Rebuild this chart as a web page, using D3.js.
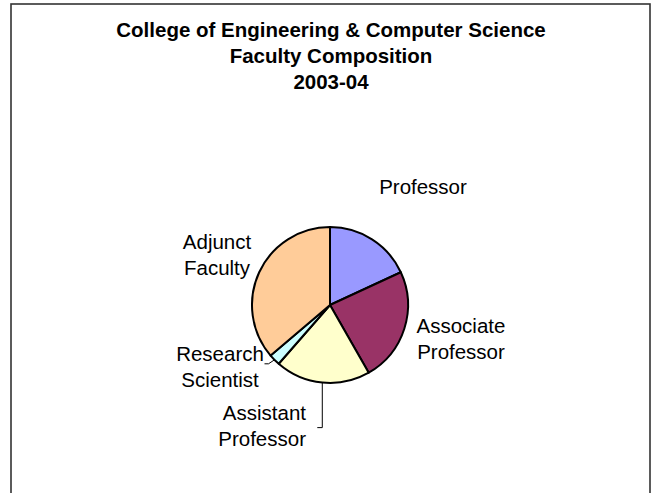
<!DOCTYPE html>
<html>
<head>
<meta charset="utf-8">
<script src="https://cdn.jsdelivr.net/npm/d3@7"></script>
<style>
  body { margin: 0; background: #fff; }
  text { font-family: "Liberation Sans", Arial, sans-serif; fill: #000; }
</style>
</head>
<body>
<div id="chart"></div>
<script>
const svgWidth = 655;
const svgHeight = 493;

// data (head counts)
const categories = ["Professor", "Associate Professor", "Assistant Professor", "Research Scientist", "Adjunct Faculty"];
const counts = [23, 30, 25, 3, 46];
const colors = ["#9999FF", "#993366", "#FFFFCC", "#CCFFFF", "#FFCC99"];
const titleLines = ["College of Engineering & Computer Science", "Faculty Composition", "2003-04"];

const svg = d3.select("#chart")
  .append("svg")
  .attr("width", svgWidth)
  .attr("height", svgHeight);

// chart frame (bottom edge runs off the page)
svg.append("rect")
  .attr("x", 11)
  .attr("y", 4)
  .attr("width", 639)
  .attr("height", 520)
  .attr("fill", "#fff")
  .attr("stroke", "#333")
  .attr("stroke-width", 1.6);

// title
svg.append("g").selectAll("text")
  .data(titleLines)
  .enter()
  .append("text")
  .attr("x", 331)
  .attr("y", (d, i) => 37 + i * 26)
  .attr("text-anchor", "middle")
  .attr("font-size", "20.5px")
  .attr("font-weight", "bold")
  .text(d => d);

const cx = 330, cy = 305, radius = 78;

const pie = d3.pie().sort(null).value(d => d.value);
const arc = d3.arc().innerRadius(0).outerRadius(radius);

const data = categories.map((c, i) => ({ name: c, value: counts[i], color: colors[i] }));
const arcs = pie(data);

const pieGroup = svg.append("g")
  .attr("transform", `translate(${cx}, ${cy})`);

pieGroup.selectAll("path")
  .data(arcs)
  .enter()
  .append("path")
  .attr("d", arc)
  .attr("fill", d => d.data.color)
  .attr("stroke", "#000")
  .attr("stroke-width", 2)
  .attr("stroke-linejoin", "round");

// label placement, relative to pie centre
const labelPos = {
  "Professor": { x: 93, y: -111, anchor: "middle" },
  "Associate Professor": { x: 131, y: 28, anchor: "middle" },
  "Assistant Professor": { x: -24, y: 115, anchor: "end" },
  "Research Scientist": { x: -110, y: 56, anchor: "middle" },
  "Adjunct Faculty": { x: -113, y: -56, anchor: "middle" }
};

const labelGroup = svg.append("g")
  .attr("transform", `translate(${cx}, ${cy})`);

arcs.forEach(a => {
  const p = labelPos[a.data.name];
  const words = a.data.name.split(" ");
  const t = labelGroup.append("text")
    .attr("x", p.x)
    .attr("y", p.y)
    .attr("text-anchor", p.anchor)
    .attr("font-size", "20.5px");
  words.forEach((w, i) => {
    t.append("tspan")
      .attr("x", p.x)
      .attr("dy", i === 0 ? 0 : 26)
      .text(w);
  });
});

// leader lines from slice edge to label
const mid = a => (a.startAngle + a.endAngle) / 2;
const edge = (a, r) => [Math.sin(mid(a)) * r, -Math.cos(mid(a)) * r];

const research = arcs[3];
const re = edge(research, radius);
labelGroup.append("path")
  .attr("d", d3.line()([re, [re[0] - 6, re[1] + 4], [re[0] - 10, re[1] + 4]]))
  .attr("fill", "none")
  .attr("stroke", "#000")
  .attr("stroke-width", 1);

const assistant = arcs[2];
const ae = edge(assistant, radius);
labelGroup.append("path")
  .attr("d", d3.line()([ae, [ae[0], ae[1] + 45], [ae[0] - 5, ae[1] + 45]]))
  .attr("fill", "none")
  .attr("stroke", "#000")
  .attr("stroke-width", 1);
</script>
</body>
</html>
